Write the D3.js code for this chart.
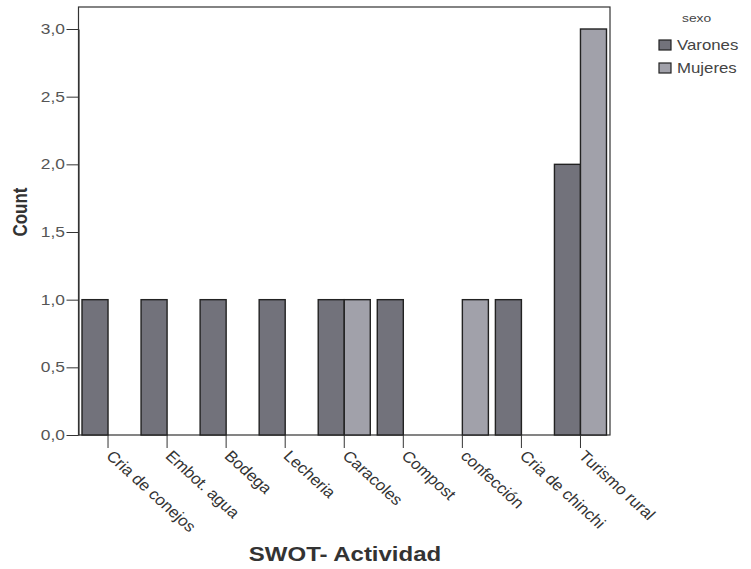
<!DOCTYPE html>
<html>
<head>
<meta charset="utf-8">
<script src="https://cdn.jsdelivr.net/npm/d3@7"></script>
<style>
  body { margin: 0; background: #fff; }
  svg { font-family: "Liberation Sans", Arial, sans-serif; }
</style>
</head>
<body>
<svg id="grafica" width="751" height="569"></svg>
<script>
// datos
categorias = ['Cria de conejos', 'Embot. agua', 'Bodega', 'Lecheria', 'Caracoles',
              'Compost', 'confección', 'Cria de chinchi', 'Turismo rural']
sexos = ['Varones', 'Mujeres']
varones = [1, 1, 1, 1, 1, 1, 0, 1, 2]
mujeres = [0, 0, 0, 0, 1, 0, 1, 0, 3]
yTicks = [0, 0.5, 1, 1.5, 2, 2.5, 3]

colores = {
    'Varones': '#72727b',
    'Mujeres': '#a1a1aa'
}

// el original esta estirado a lo ancho
sx = 1.2

svg = d3.select('#grafica')

left = 78.5
right = 610
top_ = 7
bottom = 435

x = d3.scaleBand()
    .domain(categorias)
    .range([left, right])

xSub = d3.scaleBand()
    .domain(sexos)
    .range([3.5, x.bandwidth() - 3.5])

y = d3.scaleLinear()
    .domain([0, 3])
    .range([bottom, 29])

// marco
svg.append('rect')
    .attr('x', left)
    .attr('y', top_)
    .attr('width', right - left)
    .attr('height', bottom - top_)
    .attr('fill', 'none')
    .attr('stroke', '#333')
    .attr('stroke-width', 1.2)

// barras
datos = []
categorias.forEach(function (c, i) {
    datos.push({ cat: c, sexo: 'Varones', valor: varones[i] })
    datos.push({ cat: c, sexo: 'Mujeres', valor: mujeres[i] })
})

svg.append('g')
    .selectAll('rect')
    .data(datos.filter(function (d) { return d.valor > 0 }))
    .enter()
    .append('rect')
    .attr('x', function (d) { return x(d.cat) + xSub(d.sexo) })
    .attr('y', function (d) { return y(d.valor) })
    .attr('width', xSub.bandwidth())
    .attr('height', function (d) { return y(0) - y(d.valor) })
    .attr('fill', function (d) { return colores[d.sexo] })
    .attr('stroke', '#222')
    .attr('stroke-width', 1.4)

// eje Y
yAxis = svg.append('g')
    .attr('transform', 'translate(' + left + ',0)')
    .call(d3.axisLeft(y)
        .tickValues(yTicks)
        .tickSize(12)
        .tickSizeOuter(0)
        .tickFormat(function (d) { return d3.format('.1f')(d).replace('.', ',') }))
yAxis.select('.domain').attr('stroke', '#333').attr('stroke-width', 1.2)
yAxis.selectAll('.tick line').attr('stroke', '#333')
yAxis.selectAll('.tick text')
    .attr('x', -13.5 / sx)
    .attr('transform', 'scale(' + sx + ',1)')
    .attr('fill', '#555')
    .style('font-size', '14.5px')

// eje X
xAxis = svg.append('g')
    .attr('transform', 'translate(0,' + bottom + ')')
    .call(d3.axisBottom(x).tickSize(13).tickSizeOuter(0))
xAxis.select('.domain').remove()
xAxis.selectAll('.tick line').attr('stroke', '#333')
xAxis.selectAll('.tick text')
    .attr('x', 0)
    .attr('y', 0)
    .attr('dy', '0.72em')
    .attr('text-anchor', 'start')
    .attr('transform', 'translate(6,14) scale(1.1,1) rotate(45)')
    .attr('fill', '#333')
    .style('font-size', '15.5px')

// titulos
svg.append('text')
    .attr('transform', 'translate(345,561) scale(' + sx + ',1)')
    .attr('text-anchor', 'middle')
    .style('font-size', '20px')
    .style('font-weight', 'bold')
    .attr('fill', '#333')
    .text('SWOT- Actividad')

svg.append('text')
    .attr('transform', 'translate(27,212) scale(' + sx + ',1) rotate(-90)')
    .attr('text-anchor', 'middle')
    .style('font-size', '17px')
    .style('font-weight', 'bold')
    .attr('fill', '#333')
    .text('Count')

// leyenda
leyenda = svg.append('g')
leyenda.append('text')
    .attr('transform', 'translate(682,22) scale(' + sx + ',1)')
    .style('font-size', '11.5px')
    .attr('fill', '#444')
    .text('sexo')

leyenda.selectAll('rect.ley')
    .data(sexos)
    .enter()
    .append('rect')
    .attr('class', 'ley')
    .attr('x', 659)
    .attr('y', function (d, i) { return 40 + i * 23 })
    .attr('width', 12)
    .attr('height', 10)
    .attr('fill', function (d) { return colores[d] })
    .attr('stroke', '#222')
    .attr('stroke-width', 1.2)

leyenda.selectAll('text.ley')
    .data(sexos)
    .enter()
    .append('text')
    .attr('class', 'ley')
    .attr('transform', function (d, i) { return 'translate(677,' + (50 + i * 23) + ') scale(' + sx + ',1)' })
    .style('font-size', '14px')
    .attr('fill', '#444')
    .text(function (d) { return d })
</script>
</body>
</html>
